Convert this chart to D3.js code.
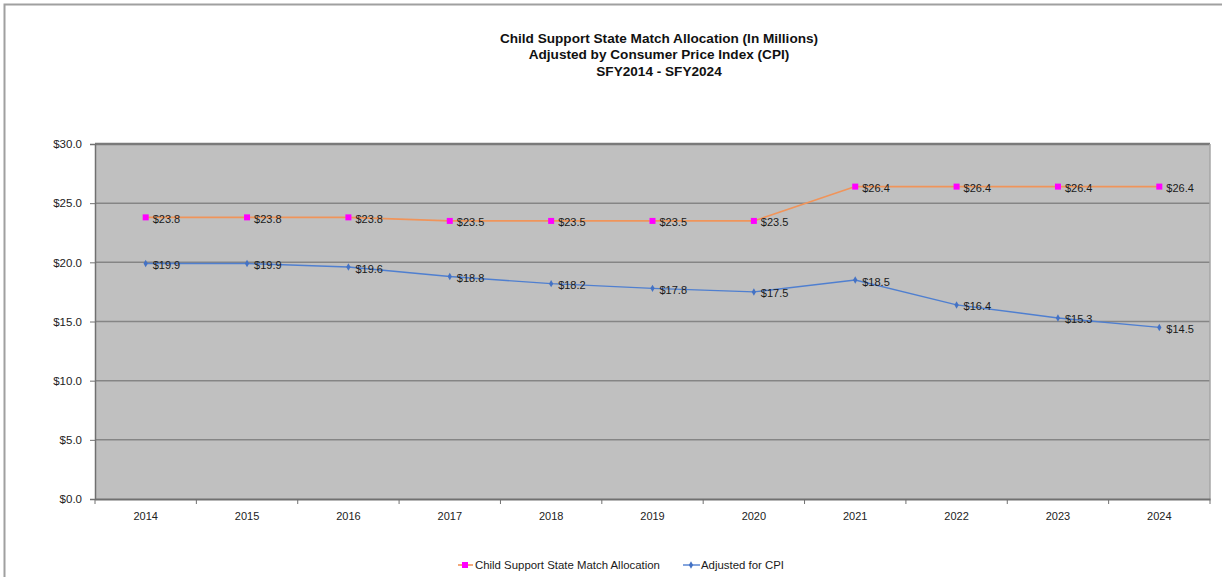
<!DOCTYPE html>
<html><head><meta charset="utf-8">
<script src="https://cdn.jsdelivr.net/npm/d3@7"></script>
<style>html,body{margin:0;padding:0;background:#fff;}svg{display:block;font-family:"Liberation Sans",Arial,sans-serif;}</style>
</head><body>
<svg id="c" width="1222" height="577"></svg>
<script>
const years = ["2014","2015","2016","2017","2018","2019","2020","2021","2022","2023","2024"];
const allocation = [23.8,23.8,23.8,23.5,23.5,23.5,23.5,26.4,26.4,26.4,26.4];
const adjusted = [19.9,19.9,19.6,18.8,18.2,17.8,17.5,18.5,16.4,15.3,14.5];
const yTicks = [0,5,10,15,20,25,30];
const titleLines = ["Child Support State Match Allocation (In Millions)","Adjusted by Consumer Price Index (CPI)","SFY2014 - SFY2024"];
const seriesNames = ["Child Support State Match Allocation","Adjusted for CPI"];

const svg = d3.select("#c");
const L=95, R=1210, T=144, B=499;
const x = d3.scaleBand().domain(years).range([L,R]);
const y = d3.scaleLinear().domain([0,30]).range([B,T]);
const cx = d => x(d)+x.bandwidth()/2;

// outer frame
svg.append("rect").attr("x",4.5).attr("y",4.5).attr("width",1230).attr("height",590)
  .attr("fill","none").attr("stroke","#a0a0a0").attr("stroke-width",2);

// titles
svg.append("g").selectAll("text").data(titleLines).join("text")
  .attr("x",659).attr("y",(d,i)=>43+i*16.3).attr("text-anchor","middle")
  .attr("font-size",13.6).attr("font-weight","bold").attr("fill","#111").text(d=>d);

// plot bg
svg.append("rect").attr("x",L).attr("y",T).attr("width",R-L).attr("height",B-T).attr("fill","#c0c0c0");
// gridlines
svg.append("g").selectAll("line").data(yTicks.filter(d=>d>0)).join("line")
  .attr("x1",L).attr("x2",R).attr("y1",d=>y(d)).attr("y2",d=>y(d))
  .attr("stroke",d=>d===30?"#7a7a7a":"#858585").attr("stroke-width",d=>d===30?2.5:1.5);
// right border
svg.append("line").attr("x1",R).attr("x2",R).attr("y1",T).attr("y2",B).attr("stroke","#a6a6a6").attr("stroke-width",1.5);

// y axis
const ya = svg.append("g").attr("transform",`translate(${L},0)`)
  .call(d3.axisLeft(y).tickValues(yTicks).tickSize(5).tickPadding(8).tickFormat(d=>"$"+d3.format(".1f")(d)));
ya.select(".domain").attr("stroke","#707070").attr("stroke-width",1.5);
ya.selectAll(".tick line").attr("stroke","#707070");
ya.selectAll("text").attr("font-size",11.5).attr("fill","#222").attr("font-family","Liberation Sans, Arial, sans-serif");

// x axis
const xa = svg.append("g").attr("transform",`translate(0,${B})`)
  .call(d3.axisBottom(x).tickSize(0).tickPadding(13));
xa.select(".domain").attr("stroke","#707070").attr("stroke-width",2);
xa.selectAll("text").attr("font-size",11).attr("fill","#222").attr("font-family","Liberation Sans, Arial, sans-serif");
svg.append("g").selectAll("line").data(d3.range(years.length+1)).join("line")
  .attr("x1",i=>L+i*x.step()).attr("x2",i=>L+i*x.step()).attr("y1",B).attr("y2",B+5)
  .attr("stroke","#707070");

const line = d3.line().x((d,i)=>cx(years[i])).y(d=>y(d));
// allocation
svg.append("path").datum(allocation).attr("d",line).attr("fill","none").attr("stroke","#f0945a").attr("stroke-width",1.6);
svg.append("g").selectAll("rect").data(allocation).join("rect")
  .attr("x",(d,i)=>cx(years[i])-3).attr("y",d=>y(d)-3).attr("width",6).attr("height",6).attr("fill","#ff00ff");
// adjusted
svg.append("path").datum(adjusted).attr("d",line).attr("fill","none").attr("stroke","#4f7fd0").attr("stroke-width",1.4);
const diamond = d3.symbol().type(d3.symbolDiamond).size(16);
svg.append("g").selectAll("path").data(adjusted).join("path")
  .attr("transform",(d,i)=>`translate(${cx(years[i])},${y(d)})`).attr("d",diamond).attr("fill","#4472c4");

// labels
function labels(data){
  svg.append("g").selectAll("text").data(data).join("text")
    .attr("x",(d,i)=>cx(years[i])+7).attr("y",d=>y(d)+5.5)
    .attr("font-size",11).attr("fill","#1a1a1a").text(d=>"$"+d3.format(".1f")(d));
}
labels(allocation); labels(adjusted);

// legend
const lg = svg.append("g");
lg.append("line").attr("x1",458).attr("x2",473).attr("y1",565).attr("y2",565).attr("stroke","#f0945a").attr("stroke-width",1.6);
lg.append("rect").attr("x",462).attr("y",562).attr("width",6).attr("height",6).attr("fill","#ff00ff");
lg.append("text").attr("x",475).attr("y",569).attr("font-size",11.4).attr("fill","#1a1a1a").text(seriesNames[0]);
lg.append("line").attr("x1",683).attr("x2",700).attr("y1",565).attr("y2",565).attr("stroke","#4f7fd0").attr("stroke-width",1.4);
lg.append("path").attr("transform","translate(691,565)").attr("d",diamond).attr("fill","#4472c4");
lg.append("text").attr("x",701).attr("y",569).attr("font-size",11.4).attr("fill","#1a1a1a").text(seriesNames[1]);
</script>
</body></html>
